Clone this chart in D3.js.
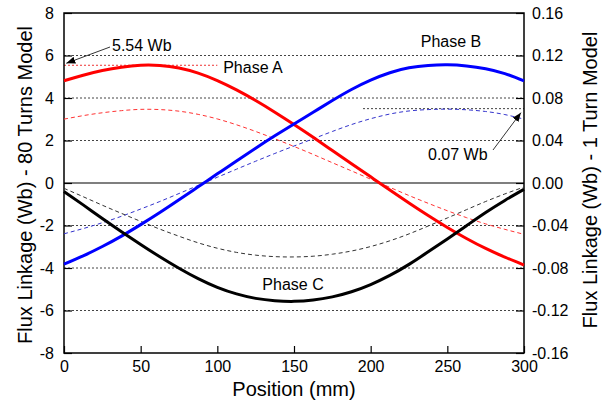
<!DOCTYPE html>
<html>
<head>
<meta charset="utf-8">
<script src="https://cdn.jsdelivr.net/npm/d3@7"></script>
<style>
body { margin: 0; background: #fff; }
text { font-family: "Liberation Sans", Arial, sans-serif; fill: #000; }
</style>
</head>
<body>
<div id="chart"></div>
<script>
// position along the machine (mm)
var position = [0, 12.5, 25, 37.5, 50, 62.5, 75, 87.5, 100, 112.5, 125, 137.5, 150,
    162.5, 175, 187.5, 200, 212.5, 225, 237.5, 250, 262.5, 275, 287.5, 300];

// 80 turns model (Wb), left axis
var phaseA80 = [4.81, 5.07, 5.29, 5.45, 5.54, 5.53, 5.41, 5.17, 4.82, 4.38, 3.88, 3.33, 2.75,
    2.15, 1.53, 0.91, 0.29, -0.33, -0.94, -1.53, -2.09, -2.61, -3.08, -3.49, -3.86];
var phaseB80 = [-3.82, -3.43, -2.99, -2.50, -1.96, -1.39, -0.79, -0.18, 0.43, 1.04, 1.64, 2.22, 2.78,
    3.33, 3.88, 4.40, 4.84, 5.19, 5.42, 5.53, 5.56, 5.51, 5.38, 5.15, 4.81];
var phaseC80 = [-0.40, -1.03, -1.67, -2.29, -2.89, -3.47, -4.01, -4.50, -4.91, -5.22, -5.43, -5.54, -5.57,
    -5.51, -5.36, -5.12, -4.78, -4.35, -3.83, -3.24, -2.63, -2.01, -1.39, -0.82, -0.30];

// 1 turn model (Wb), right axis
var phaseA1 = [0.0601, 0.0634, 0.0661, 0.0681, 0.0693, 0.0691, 0.0676, 0.0646, 0.0603, 0.0548, 0.0485, 0.0416, 0.0344,
    0.0269, 0.0191, 0.0114, 0.0036, -0.0041, -0.0118, -0.0191, -0.0261, -0.0326, -0.0385, -0.0436, -0.0483];
var phaseB1 = [-0.0478, -0.0429, -0.0374, -0.0313, -0.0245, -0.0174, -0.0099, -0.0023, 0.0054, 0.0130, 0.0205, 0.0278, 0.0348,
    0.0416, 0.0485, 0.0550, 0.0605, 0.0649, 0.0678, 0.0691, 0.0695, 0.0689, 0.0673, 0.0644, 0.0601];
var phaseC1 = [-0.0050, -0.0129, -0.0209, -0.0286, -0.0361, -0.0434, -0.0501, -0.0563, -0.0614, -0.0653, -0.0679, -0.0693, -0.0696,
    -0.0689, -0.0670, -0.0640, -0.0598, -0.0544, -0.0479, -0.0405, -0.0329, -0.0251, -0.0174, -0.0103, -0.0038];

var peak80 = 5.54;
var peak1 = 0.07;

var xTicks = [0, 50, 100, 150, 200, 250, 300];
var leftTicks = [-8, -6, -4, -2, 0, 2, 4, 6, 8];
var rightTicks = [-0.16, -0.12, -0.08, -0.04, 0, 0.04, 0.08, 0.12, 0.16];

var svgWidth = 604;
var svgHeight = 409;
var margin = { top: 13, right: 80, bottom: 56, left: 64 };
var width = svgWidth - margin.left - margin.right;
var height = svgHeight - margin.top - margin.bottom;

var svg = d3.select("#chart")
    .append("svg")
    .attr("width", svgWidth)
    .attr("height", svgHeight);

var chartGroup = svg.append("g")
    .attr("transform", `translate(${margin.left}, ${margin.top})`);

// scales
var xScale = d3.scaleLinear().domain([0, 300]).range([0, width]);
var yLeft = d3.scaleLinear().domain([-8, 8]).range([height, 0]);
var yRight = d3.scaleLinear().domain([-0.16, 0.16]).range([height, 0]);

// dotted grid
chartGroup.append("g")
    .selectAll("line")
    .data(leftTicks.filter(d => Math.abs(d) != 8 && d != 0))
    .enter()
    .append("line")
        .attr("x1", 0)
        .attr("x2", width)
        .attr("y1", d => yLeft(d))
        .attr("y2", d => yLeft(d))
        .attr("stroke", "#444")
        .attr("stroke-width", 1)
        .attr("stroke-dasharray", "2,2");

// reference lines for the peak values
chartGroup.append("line")
    .attr("x1", xScale(0))
    .attr("x2", xScale(100))
    .attr("y1", yLeft(peak80))
    .attr("y2", yLeft(peak80))
    .attr("stroke", "#e33")
    .attr("stroke-width", 1)
    .attr("stroke-dasharray", "2,2");
chartGroup.append("line")
    .attr("x1", xScale(195))
    .attr("x2", xScale(300))
    .attr("y1", yRight(peak1))
    .attr("y2", yRight(peak1))
    .attr("stroke", "#444")
    .attr("stroke-width", 1)
    .attr("stroke-dasharray", "2,2");

// zero line
chartGroup.append("line")
    .attr("x1", 0)
    .attr("x2", width)
    .attr("y1", yLeft(0))
    .attr("y2", yLeft(0))
    .attr("stroke", "#000")
    .attr("stroke-width", 1.2);

// axes, ticks pointing inward
var bottomAxis = d3.axisBottom(xScale).tickValues(xTicks).tickSizeInner(-7).tickSizeOuter(0).tickPadding(8);
var leftAxis = d3.axisLeft(yLeft).tickValues(leftTicks).tickSizeInner(-8).tickSizeOuter(0).tickPadding(10)
    .tickFormat(d => String(d));
var rightAxis = d3.axisRight(yRight).tickValues(rightTicks).tickSizeInner(-8).tickSizeOuter(0).tickPadding(8)
    .tickFormat(d => d.toFixed(2));

chartGroup.append("g")
    .attr("class", "axis")
    .attr("transform", `translate(0, ${height})`)
    .call(bottomAxis);
chartGroup.append("g")
    .attr("class", "axis")
    .call(leftAxis);
chartGroup.append("g")
    .attr("class", "axis")
    .attr("transform", `translate(${width}, 0)`)
    .call(rightAxis);

chartGroup.selectAll(".axis text")
    .style("font-size", "16px");
chartGroup.selectAll(".axis line")
    .attr("stroke", "#000")
    .attr("stroke-width", 1.2);
chartGroup.selectAll(".axis .domain").remove();

// frame
chartGroup.append("rect")
    .attr("width", width)
    .attr("height", height)
    .attr("fill", "none")
    .attr("stroke", "#000")
    .attr("stroke-width", 1.5);

// lines
var line80 = d3.line()
    .x((d, i) => xScale(position[i]))
    .y(d => yLeft(d))
    .curve(d3.curveNatural);
var line1 = d3.line()
    .x((d, i) => xScale(position[i]))
    .y(d => yRight(d))
    .curve(d3.curveNatural);

var dashed = [
    { values: phaseA1, color: "#f33" },
    { values: phaseB1, color: "#33c" },
    { values: phaseC1, color: "#333" }
];
var solid = [
    { values: phaseA80, color: "#ff0000" },
    { values: phaseB80, color: "#0000ff" },
    { values: phaseC80, color: "#000000" }
];

chartGroup.selectAll(".dashLine")
    .data(dashed)
    .enter()
    .append("path")
        .attr("class", "dashLine")
        .attr("d", d => line1(d.values))
        .attr("fill", "none")
        .attr("stroke", d => d.color)
        .attr("stroke-width", 1)
        .attr("stroke-dasharray", "4,3");

chartGroup.selectAll(".solidLine")
    .data(solid)
    .enter()
    .append("path")
        .attr("class", "solidLine")
        .attr("d", d => line80(d.values))
        .attr("fill", "none")
        .attr("stroke", d => d.color)
        .attr("stroke-width", 3);

// phase labels
var phaseLabels = [
    { text: "Phase A", x: 253, y: 73 },
    { text: "Phase B", x: 451, y: 47 },
    { text: "Phase C", x: 293, y: 290 }
];
svg.selectAll(".phaseLabel")
    .data(phaseLabels)
    .enter()
    .append("text")
        .attr("class", "phaseLabel")
        .attr("x", d => d.x)
        .attr("y", d => d.y)
        .attr("text-anchor", "middle")
        .style("font-size", "16px")
        .text(d => d.text);

// arrows for the peak values
svg.append("defs").append("marker")
    .attr("id", "arrow")
    .attr("viewBox", "0 0 10 10")
    .attr("refX", 10)
    .attr("refY", 5)
    .attr("markerWidth", 9)
    .attr("markerHeight", 9)
    .attr("markerUnits", "userSpaceOnUse")
    .attr("orient", "auto")
    .append("path")
        .attr("d", "M0,1 L10,5 L0,9 Z")
        .attr("fill", "#000");

svg.append("line")
    .attr("x1", 110).attr("y1", 47)
    .attr("x2", margin.left + xScale(1.5)).attr("y2", margin.top + yLeft(peak80) - 2)
    .attr("stroke", "#000")
    .attr("stroke-width", 0.8)
    .attr("marker-end", "url(#arrow)");
svg.append("text")
    .attr("x", 112)
    .attr("y", 51)
    .style("font-size", "16px")
    .text(peak80.toFixed(2) + " Wb");

svg.append("line")
    .attr("x1", 493).attr("y1", 150)
    .attr("x2", margin.left + xScale(298)).attr("y2", margin.top + yRight(peak1) + 4)
    .attr("stroke", "#000")
    .attr("stroke-width", 0.8)
    .attr("marker-end", "url(#arrow)");
svg.append("text")
    .attr("x", 428)
    .attr("y", 160)
    .style("font-size", "16px")
    .text(peak1.toFixed(2) + " Wb");

// axis titles
svg.append("text")
    .attr("transform", `translate(32, ${margin.top + height / 2 + 2}) rotate(-90)`)
    .attr("text-anchor", "middle")
    .style("font-size", "20px")
    .text("Flux Linkage (Wb) - 80 Turns Model");
svg.append("text")
    .attr("transform", `translate(597, ${margin.top + height / 2 - 3}) rotate(-90)`)
    .attr("text-anchor", "middle")
    .style("font-size", "20px")
    .text("Flux Linkage (Wb) - 1 Turn Model");
svg.append("text")
    .attr("x", margin.left + width / 2)
    .attr("y", 396)
    .attr("text-anchor", "middle")
    .style("font-size", "20px")
    .text("Position (mm)");
</script>
</body>
</html>
